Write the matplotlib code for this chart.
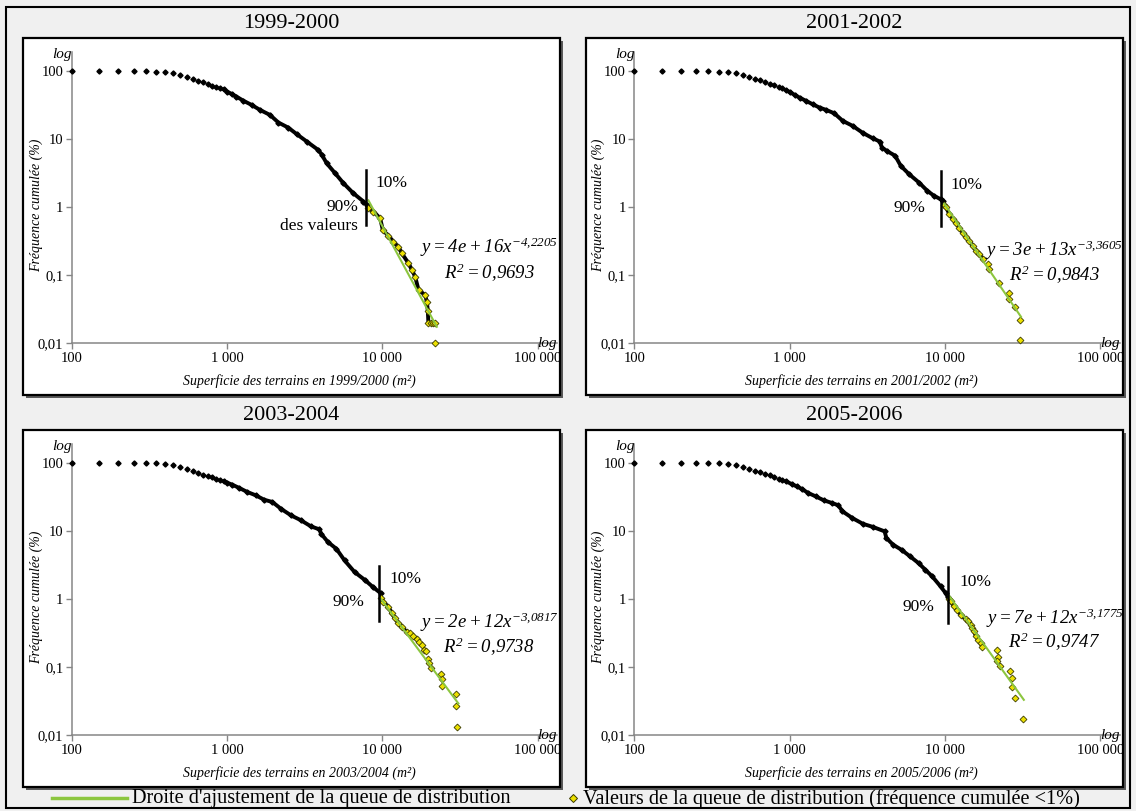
import matplotlib
matplotlib.use('Agg')
import matplotlib.pyplot as plt
from matplotlib.patches import Rectangle
from matplotlib.lines import Line2D
from matplotlib.ticker import NullLocator
import numpy as np

plt.rcParams['font.family'] = ['Liberation Serif', 'DejaVu Serif']
plt.rcParams['mathtext.fontset'] = 'custom'
plt.rcParams['mathtext.rm'] = 'Liberation Serif:italic'
plt.rcParams['mathtext.it'] = 'Liberation Serif:italic'
plt.rcParams['mathtext.default'] = 'it'

# ---- data ----
titles = ['1999-2000', '2001-2002', '2003-2004', '2005-2006']
years = ['1999/2000', '2001/2002', '2003/2004', '2005/2006']

x1 = [100, 150, 200, 250, 300, 350, 400, 450, 500, 550, 600, 650, 700, 750, 800, 850, 900, 950,
      1000, 1070, 1150, 1270, 1440, 1630, 1890, 2140, 2480, 2810, 3260, 3870, 4070, 4380, 4960,
      5610, 6500, 7550, 7930]
y1 = [100, 99.9, 99.7, 99.3, 98.7, 97.6, 95.6, 92.4, 87, 82.6, 76, 72, 68, 64, 60, 57.5, 55.7, 53.8,
      49.8, 46, 42, 36.7, 31.7, 26.8, 22.6, 17.5, 14.7, 11.8, 9.2, 6.9, 5.9, 4.4, 3.15,
      2.25, 1.6, 1.21, 1.08]
tx1 = [8130, 8750, 9660, 10070, 10940, 11780, 12690, 13330, 14720, 15470, 16250, 17080, 18850,
       19310, 19600, 19770, 20500, 21200, 21830, 21930]
ty1 = [0.96, 0.86, 0.69, 0.46, 0.38, 0.31, 0.26, 0.21, 0.15, 0.12, 0.095, 0.061, 0.051,
       0.041, 0.030, 0.020, 0.020, 0.020, 0.020, 0.010]

x2 = [100, 150, 200, 250, 300, 350, 400, 450, 500, 550, 600, 650, 700, 750, 800, 850, 900, 950,
      1000, 1080, 1160, 1280, 1410, 1560, 1720, 1940, 2200, 2550, 2950, 3420, 3810, 3930, 4270,
      4780, 5200, 5880, 6810, 7700, 8500, 9370, 9750]
y2 = [100, 99.9, 99.8, 99.5, 99, 98, 96.5, 92.4, 87.3, 81.6, 77.3, 73, 69, 65, 61.6, 58.9, 55.7, 52,
      49.2, 44.5, 40.6, 36.3, 32.4, 29, 26.8, 23.9, 18.5, 15.6, 12.4, 10.3, 9.2, 7.5, 6.6,
      5.7, 4.04, 3.05, 2.3, 1.74, 1.47, 1.31, 1.24]
tx2 = [9900, 10150, 10660, 11210, 11780, 12370, 13000, 13660, 14350, 15090, 15850, 16650, 17500,
       18840, 19280, 22370, 25740, 25740, 28420, 30640, 30640]
ty2 = [1.08, 1.0, 0.80, 0.68, 0.59, 0.50, 0.42, 0.36, 0.32, 0.27, 0.23, 0.203, 0.176,
       0.145, 0.122, 0.078, 0.0557, 0.0444, 0.0336, 0.022, 0.0111]

x3 = [100, 150, 200, 250, 300, 350, 400, 450, 500, 550, 600, 650, 700, 750, 800, 850, 900, 950,
      1000, 1080, 1200, 1350, 1530, 1730, 1960, 2220, 2580, 2990, 3470, 3930, 4030, 4460, 5050,
      5710, 6620, 7690, 8710, 9760]
y3 = [100, 99.9, 99.8, 99.5, 99, 98.5, 97, 92.4, 87.3, 81.6, 76.3, 71.3, 67.3, 63.6, 62.2, 58.9, 55.6,
      53.7, 51.4, 48, 42.9, 37.5, 33.5, 28.9, 26.7, 21.3, 17, 14.4, 11.7, 10.6, 9.15, 6.9, 5.5,
      3.7, 2.5, 1.92, 1.5, 1.22]
tx3 = [9770, 10150, 10930, 11490, 12080, 12690, 13330, 14360, 15080, 15840, 16640, 17300, 17930,
       18560, 19110, 19780, 20090, 20590, 23900, 24140, 24140, 29700, 29700, 30420]
ty3 = [1.05, 0.91, 0.77, 0.62, 0.52, 0.44, 0.39, 0.331, 0.313, 0.286, 0.256, 0.236, 0.211,
       0.178, 0.172, 0.132, 0.114, 0.096, 0.079, 0.067, 0.0535, 0.0404, 0.0269, 0.0134]

x4 = [100, 150, 200, 250, 300, 350, 400, 450, 500, 550, 600, 650, 700, 750, 800, 850, 900, 950,
      1030, 1110, 1200, 1320, 1470, 1660, 1880, 2060, 2190, 2540, 2960, 3440, 4090, 4200, 4640,
      5260, 5970, 6770, 7480, 8280, 9370, 10100, 10490]
y4 = [100, 99.9, 99.8, 99.5, 99, 98.5, 97, 92.4, 87.3, 81.6, 77.1, 73.7, 69.7, 65.9, 62.2, 58.9, 55.6,
      53.7, 49.1, 45.4, 41.5, 36.2, 32.4, 28.3, 25.8, 23.9, 19.5, 15.5, 12.8, 11.5, 9.9, 7.9, 6.3,
      5.3, 4.24, 3.38, 2.7, 2.16, 1.54, 1.23, 1.06]
tx4 = [10620, 10890, 11430, 12000, 12620, 13590, 14130, 14630, 14990, 15360, 15890, 16360, 16970,
       17390, 21520, 21940, 21690, 22570, 26060, 26840, 27100, 28190, 31900]
ty4 = [1.0, 0.93, 0.78, 0.70, 0.59, 0.51, 0.47, 0.42, 0.38, 0.34, 0.284, 0.254, 0.227,
       0.199, 0.177, 0.140, 0.122, 0.105, 0.087, 0.070, 0.052, 0.035, 0.0174]

main_x = [x1, x2, x3, x4]
main_y = [y1, y2, y3, y4]
tail_x = [tx1, tx2, tx3, tx4]
tail_y = [ty1, ty2, ty3, ty4]
tail_dense = [19, 13, 12, 14]

# power fits y = a * x^b (from the chart) and x span of the drawn line
fit_a = [4e16, 3e13, 2e12, 7e12]
fit_b = [-4.2205, -3.3605, -3.0817, -3.1775]
fit_xr = [(8130, 22390), (9900, 30900), (9770, 30830), (10620, 32210)]
r2 = ['0,9693', '0,9843', '0,9738', '0,9747']
a_txt = ['4e+16', '3e+13', '2e+12', '7e+12']
b_txt = ['-4{,}2205', '-3{,}3605', '-3{,}0817', '-3{,}1775']

# 90% / 10% separator
cut_x = [7820, 9420, 9570, 10450]
cut_y = [(0.55, 3.5), (0.53, 3.4), (0.48, 3.05), (0.45, 2.97)]

# ---- layout (pixels) ----
W, H = 1136, 811
fig = plt.figure(figsize=(W / 100, H / 100), dpi=100)
fig.patch.set_facecolor('#f0f0f0')


def fx(x):
    return x / W


def fy(y):
    return 1 - y / H


GREEN = '#8cc63f'
YEL = '#ece000'
GRAY = '#868686'

offsets = [(0, 0), (562.5, 0), (0, 392), (562.5, 392)]
eq_pos = [(489, 247), (491.5, 250), (489, 230), (492.5, 226)]
r2_pos = [(489.5, 273), (492, 275), (488.5, 255), (492, 250)]
p90_pos = [(358, 207), (362.5, 208), (364, 209.7), (371.5, 215)]
p10_pos = [(375, 183), (387.5, 185), (389, 187), (396.5, 190)]

fig.add_artist(Rectangle((fx(6), fy(808)), 1124 / W, 801 / H, transform=fig.transFigure,
                         facecolor='none', edgecolor='black', lw=1.5, zorder=-3))

for i in range(4):
    dx, dy = offsets[i]
    # panel frame with shadow
    fig.add_artist(Rectangle((fx(26 + dx), fy(398 + dy)), 537 / W, 357 / H, transform=fig.transFigure,
                             facecolor='#5a5a5a', edgecolor='none', zorder=-2))
    fig.add_artist(Rectangle((fx(23 + dx), fy(395 + dy)), 537 / W, 357 / H, transform=fig.transFigure,
                             facecolor='white', edgecolor='black', lw=1.6, zorder=-1))
    fig.text(fx(291.5 + dx), fy(24 + dy), titles[i], ha='center', va='center', fontsize=16)

    ax = fig.add_axes([fx(71.7 + dx), fy(343.3 + dy), 485.3 / W, 291.3 / H])
    ax.patch.set_alpha(0)
    ax.set_xscale('log')
    ax.set_yscale('log')
    ax.set_xlim(100, 1.33e5)
    ax.set_ylim(0.01, 190)
    for s in ['top', 'right']:
        ax.spines[s].set_visible(False)
    for s in ['left', 'bottom']:
        ax.spines[s].set_color(GRAY)
        ax.spines[s].set_linewidth(1.1)
    ax.set_xticks([100, 1000, 10000, 100000])
    ax.set_xticklabels(['100', '1 000', '10 000', '100 000'])
    ax.set_yticks([0.01, 0.1, 1, 10, 100])
    ax.set_yticklabels(['0,01', '0,1', '1', '10', '100'])
    ax.xaxis.set_minor_locator(NullLocator())
    ax.yaxis.set_minor_locator(NullLocator())
    ax.tick_params(direction='out', length=4, width=1, color=GRAY, labelsize=10.5, pad=2)

    ax.text(1.0, 0.0, 'log', transform=ax.transAxes, ha='right', va='center',
            style='italic', fontsize=11)
    ax.text(0.0, 0.99, 'log', transform=ax.transAxes, ha='right', va='center',
            style='italic', fontsize=11)

    mx = np.array(main_x[i], dtype=float)
    my = np.array(main_y[i], dtype=float)
    tx = np.array(tail_x[i], dtype=float)
    ty = np.array(tail_y[i], dtype=float)
    nd = tail_dense[i]

    # cumulative frequency curve
    ax.plot(mx, my, 'D', ms=2.6, color='black', zorder=3, clip_on=False)
    dense = mx >= 950
    ax.plot(np.concatenate([mx[dense], tx[:nd]]), np.concatenate([my[dense], ty[:nd]]),
            color='black', lw=2.8, solid_joinstyle='round', solid_capstyle='round', zorder=3)

    # tail values
    ax.plot(tx, ty, 'D', ms=3.5, mfc=YEL, mec='#3a3a00', mew=0.6, ls='none', zorder=4, clip_on=False)

    # fit line
    fxr = np.array(fit_xr[i], dtype=float)
    ax.plot(fxr, fit_a[i] * fxr ** fit_b[i], color=GREEN, lw=1.5, zorder=5)

    # 90 / 10 separator
    ax.plot([cut_x[i], cut_x[i]], cut_y[i], color='black', lw=1.8, zorder=6)

    fig.text(fx(eq_pos[i][0] + dx), fy(eq_pos[i][1] + dy),
             r'$y = %s%s x^{%s}$' % (a_txt[i][:2], a_txt[i][2:], b_txt[i]),
             ha='center', va='center', fontsize=13.5)
    fig.text(fx(r2_pos[i][0] + dx), fy(r2_pos[i][1] + dy), r'$R^2 = %s$' % r2[i].replace(',', '{,}'),
             ha='center', va='center', fontsize=13.5)
    fig.text(fx(p90_pos[i][0] + dx), fy(p90_pos[i][1] + dy), '90%', ha='right', va='center', fontsize=12.5)
    fig.text(fx(p10_pos[i][0] + dx), fy(p10_pos[i][1] + dy), '10%', ha='left', va='center', fontsize=12.5)
    if i == 0:
        fig.text(fx(358), fy(226), 'des valeurs', ha='right', va='center', fontsize=12.5)

    fig.text(fx(299 + dx), fy(381 + dy), 'Superficie des terrains en %s (m²)' % years[i],
             ha='center', va='center', style='italic', fontsize=10)
    fig.text(fx(36 + dx), fy(205 + dy), 'Fréquence cumulée (%)', rotation=90,
             ha='center', va='center', style='italic', fontsize=10)

# legend
fig.add_artist(Line2D([fx(52), fx(127)], [fy(798), fy(798)], transform=fig.transFigure,
                      color=GREEN, lw=2.5))
fig.text(fx(132), fy(799), "Droite d'ajustement de la queue de distribution", ha='left', va='center',
         fontsize=14.6)
fig.add_artist(Line2D([fx(573)], [fy(798)], transform=fig.transFigure, marker='D', ms=4.5,
                      mfc=YEL, mec='#3a3a00', mew=0.7, ls='none'))
fig.text(fx(583), fy(799), 'Valeurs de la queue de distribution (fréquence cumulée <1%)',
         ha='left', va='center', fontsize=14.6)

fig.savefig('out.png', dpi=100, facecolor=fig.get_facecolor())
